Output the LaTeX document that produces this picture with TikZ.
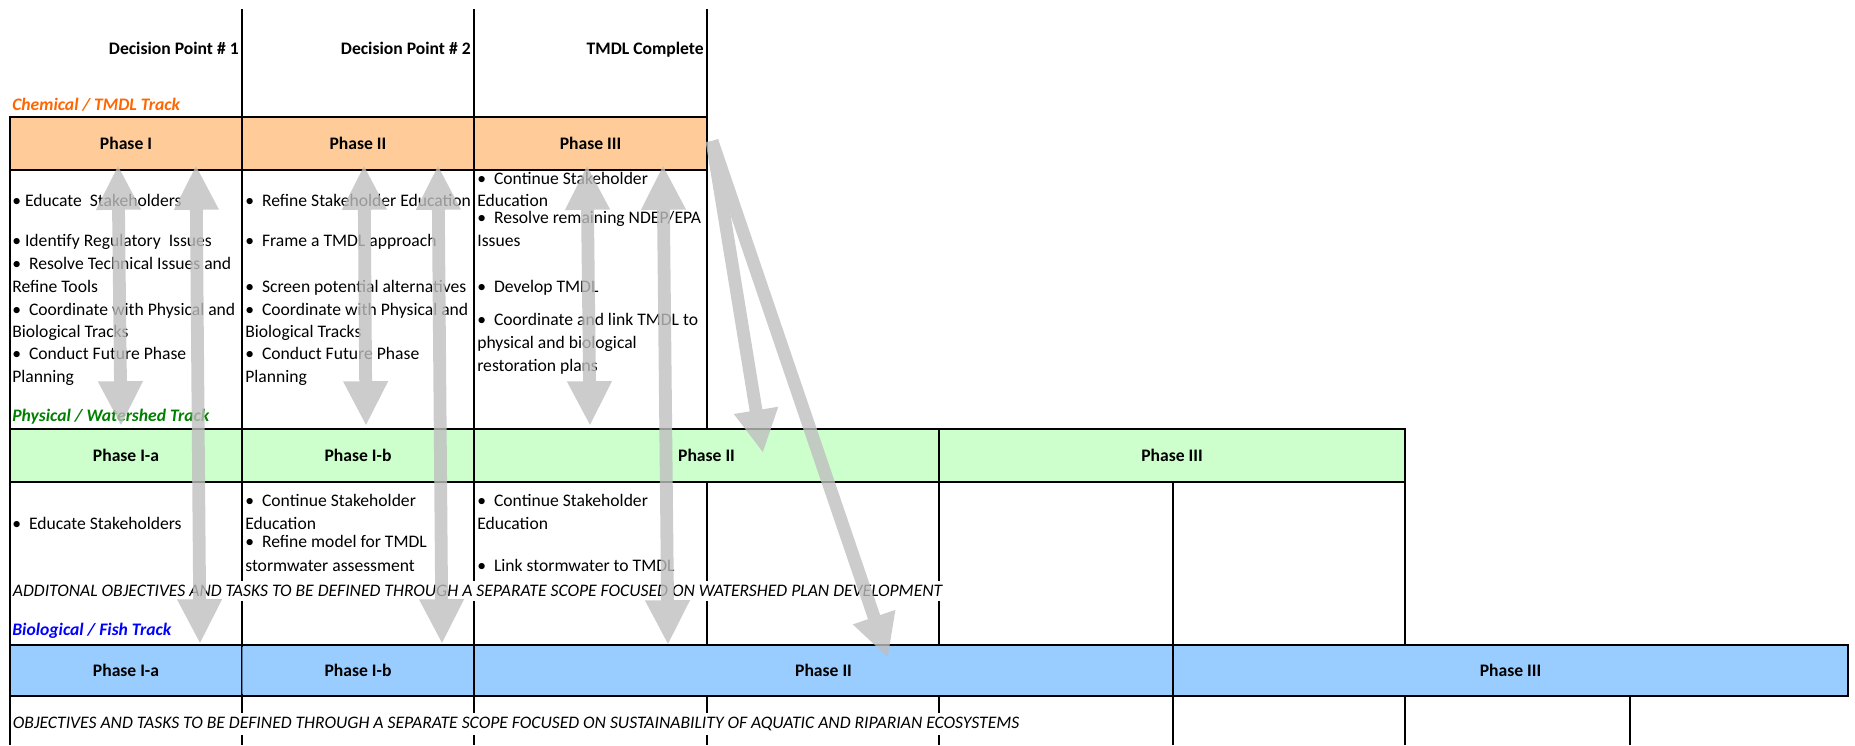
\documentclass[tikz,border=0pt]{standalone}
\usepackage{fontspec}
\setmainfont{Carlito}
\usetikzlibrary{arrows.meta}
\definecolor{chemFill}{HTML}{FFCC99}
\definecolor{physFill}{HTML}{CCFFCC}
\definecolor{bioFill}{HTML}{99CCFF}
\definecolor{chemText}{HTML}{FF6600}
\definecolor{physText}{HTML}{008000}
\definecolor{bioText}{HTML}{0000FF}
\begin{document}
\begin{tikzpicture}[
x=0.625pt,y=-0.625pt,
font=\fontsize{11}{13.5}\selectfont,
phase/.style={draw,line width=1.8pt},
grid/.style={line width=1.3pt},
head/.style={font=\fontsize{11}{13.5}\selectfont\bfseries},
txt/.style={anchor=mid west,inner sep=0pt},
track/.style={txt,font=\fontsize{11}{13.5}\selectfont\bfseries\itshape},
note/.style={txt,inner xsep=1pt,inner ysep=2.5pt,fill=white,font=\fontsize{11}{13.5}\selectfont\itshape},
link/.style={draw=black!25,line width=8pt},
twoway/.style={link,{Triangle[length=28pt,width=26pt]}-{Triangle[length=28pt,width=26pt]}},
oneway/.style={link,-{Triangle[length=27pt,width=26pt]}},
]
\useasboundingbox (0,0) rectangle (1855,745);
% grid lines
\draw[grid]
    (10,117) -- (10,745)
    (242,9) -- (242,745)
    (474,9) -- (474,745)
    (707,9) -- (707,429) (707,482) -- (707,645) (707,696) -- (707,745)
    (939,482) -- (939,645) (939,696) -- (939,745)
    (1173,482) -- (1173,745)
    (1405,429) -- (1405,645) (1405,696) -- (1405,745)
    (1630,696) -- (1630,745);
% phase rows
\path[phase,fill=chemFill]
    (10,117) rectangle (242,170) node[pos=.5,head] (chemI) {Phase I}
    (242,117) rectangle (474,170) node[pos=.5,head] (chemII) {Phase II}
    (474,117) rectangle (707,170) node[pos=.5,head] (chemIII) {Phase III};
\path[phase,fill=physFill]
    (10,429) rectangle (242,482) node[pos=.5,head] (physIa) {Phase I-a}
    (242,429) rectangle (474,482) node[pos=.5,head] (physIb) {Phase I-b}
    (474,429) rectangle (939,482) node[pos=.5,head] (physII) {Phase II}
    (939,429) rectangle (1405,482) node[pos=.5,head] (physIII) {Phase III};
\path[phase,fill=bioFill]
    (10,645) rectangle (242,696) node[pos=.5,head] (bioIa) {Phase I-a}
    (242,645) rectangle (474,696) node[pos=.5,head] (bioIb) {Phase I-b}
    (474,645) rectangle (1173,696) node[pos=.5,head] (bioII) {Phase II}
    (1173,645) rectangle (1848,696) node[pos=.5,head] (bioIII) {Phase III};
\draw[line width=.5pt,draw=bioFill!60!black] (242,647) -- (242,694);
% decision points and tracks
\node[head,anchor=mid east,inner sep=0pt] (dp1) at (239,51) {Decision Point \# 1};
\node[head,anchor=mid east,inner sep=0pt] (dp2) at (471,51) {Decision Point \# 2};
\node[head,anchor=mid east,inner sep=0pt] (done) at (704,51) {TMDL Complete};
\node[track,text=chemText] (chem) at (12,107) {Chemical / TMDL Track};
\node[track,text=physText] (phys) at (12,418) {Physical / Watershed Track};
\node[track,text=bioText] (bio) at (12,632) {Biological / Fish Track};
% chemical tasks
\foreach \y/\t [count=\i] in {
    203/{•\ Educate\ \ Stakeholders},
    243/{•\ Identify Regulatory\ \ Issues},
    266/{•\ \ Resolve Technical Issues and},
    289/{Refine Tools},
    312/{•\ \ Coordinate with Physical and},
    334/{Biological Tracks},
    356/{•\ \ Conduct Future Phase},
    379/{Planning}}
  \node[txt] (chemA\i) at (12,\y) {\t};
\foreach \y/\t [count=\i] in {
    203/{•\ \ Refine Stakeholder Education},
    243/{•\ \ Frame a TMDL approach},
    289/{•\ \ Screen potential alternatives},
    312/{•\ \ Coordinate with Physical and},
    334/{Biological Tracks},
    356/{•\ \ Conduct Future Phase},
    379/{Planning}}
  \node[txt] (chemB\i) at (245,\y) {\t};
\foreach \y/\t [count=\i] in {
    181/{•\ \ Continue Stakeholder},
    203/{Education},
    220/{•\ \ Resolve remaining NDEP/EPA},
    243/{Issues},
    289/{•\ \ Develop TMDL},
    322/{•\ \ Coordinate and link TMDL to},
    345/{physical and biological},
    368/{restoration plans}}
  \node[txt] (chemC\i) at (477,\y) {\t};
% physical tasks
\node[txt] (physA1) at (12,526) {•\ \ Educate Stakeholders};
\foreach \y/\t [count=\i] in {
    503/{•\ \ Continue Stakeholder},
    526/{Education},
    544/{•\ \ Refine model for TMDL},
    568/{stormwater assessment}}
  \node[txt] (physB\i) at (245,\y) {\t};
\foreach \y/\t [count=\i] in {
    503/{•\ \ Continue Stakeholder},
    526/{Education},
    568/{•\ \ Link stormwater to TMDL}}
  \node[txt] (physC\i) at (477,\y) {\t};
\node[note] (physNote) at (11,593) {ADDITONAL OBJECTIVES AND TASKS TO BE DEFINED THROUGH A SEPARATE SCOPE FOCUSED ON WATERSHED PLAN DEVELOPMENT};
\node[note] (bioNote) at (11,725) {OBJECTIVES AND TASKS TO BE DEFINED THROUGH A SEPARATE SCOPE FOCUSED ON SUSTAINABILITY OF AQUATIC AND RIPARIAN ECOSYSTEMS};
% links between tracks
\begin{scope}[transparency group,opacity=.8]
\foreach \i/\a/\b/\c in {1/118/121/426, 2/196/200/644, 3/364/366/426,
    4/438/442/644, 5/587/590/426, 6/663/668/645}{
  \coordinate (top\i) at (\a,165);
  \coordinate (low\i) at (\b,\c);
  \draw[twoway] (top\i) -- (low\i);
}
\coordinate (from3) at (712,141);
\coordinate (toPhys) at (763,453);
\coordinate (toBio) at (888,658);
\draw[oneway] (from3) -- (toPhys);
\draw[oneway] (from3) -- (toBio);
\end{scope}
\end{tikzpicture}
\end{document}
